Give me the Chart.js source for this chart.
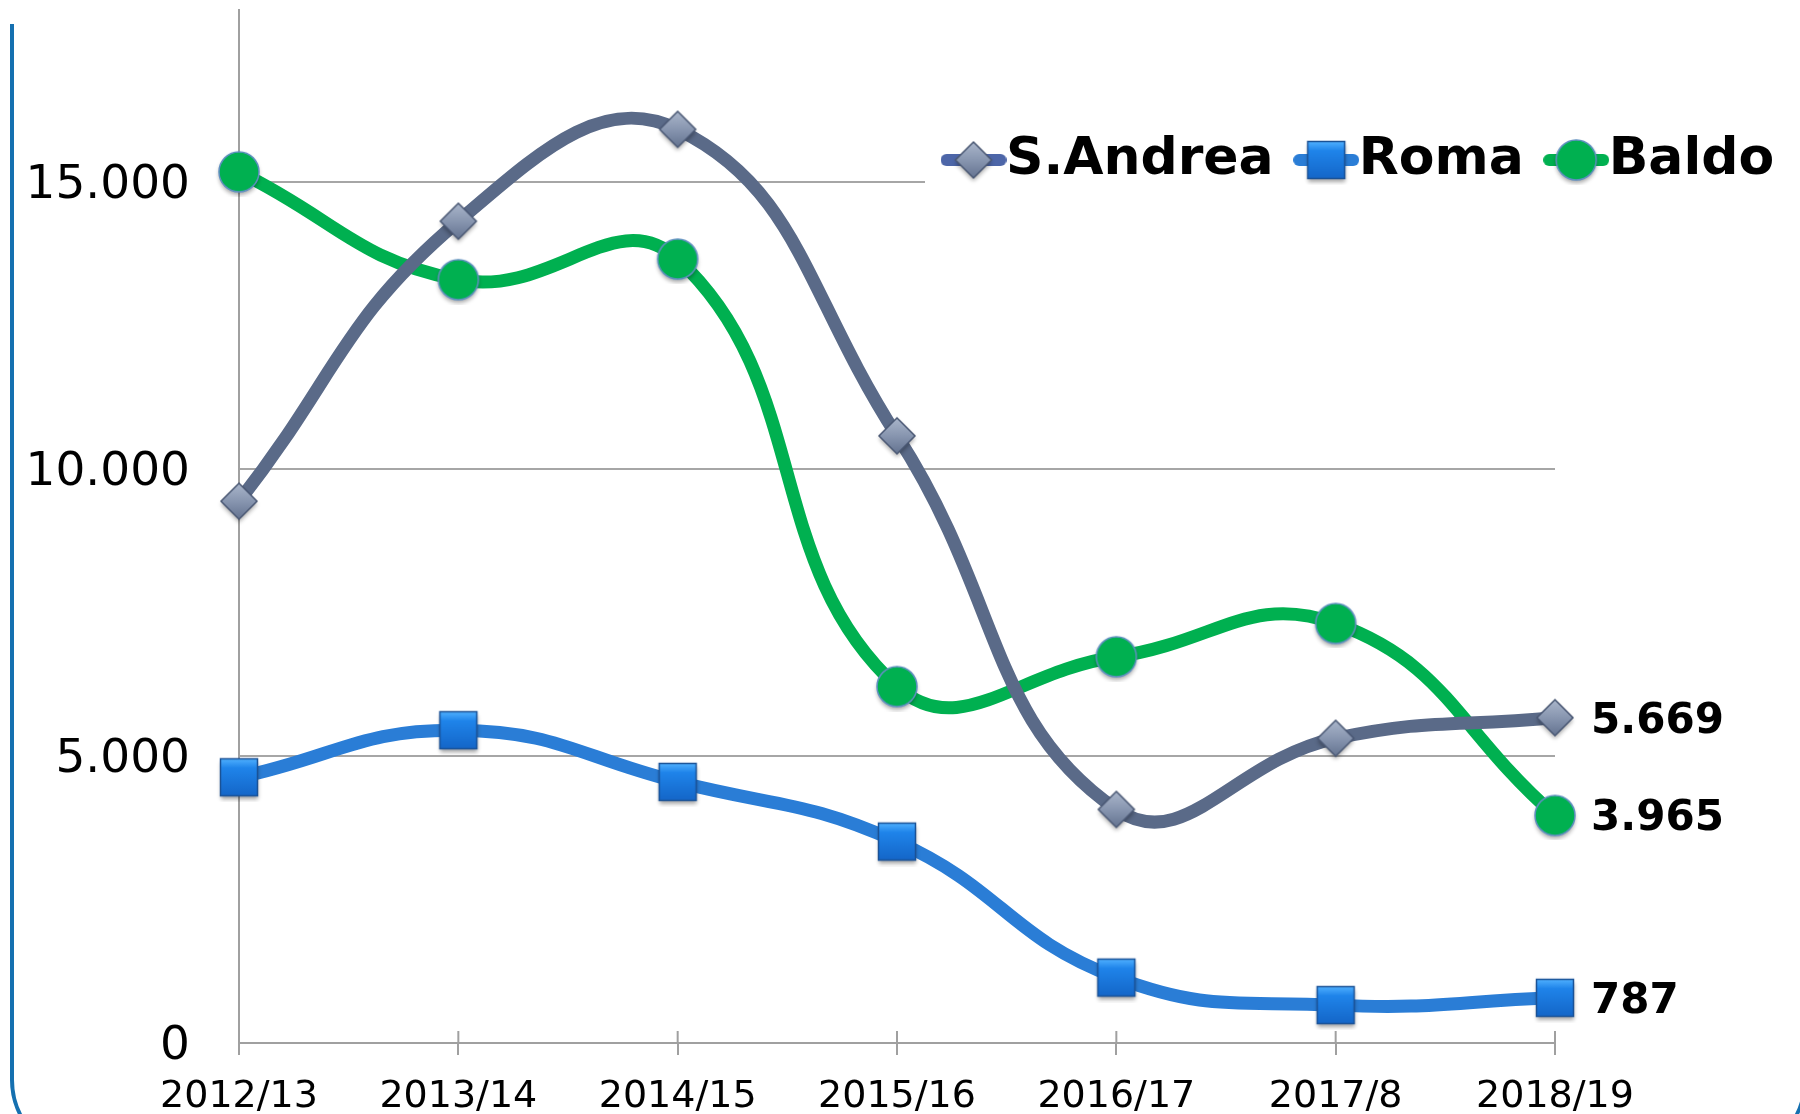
<!DOCTYPE html>
<html>
<head>
<meta charset="utf-8">
<script src="https://cdn.jsdelivr.net/npm/chart.js@4.4.1/dist/chart.umd.min.js"></script>
<style>
  html, body { margin: 0; background: #fff; }
  #contenitore { width: 1800px; height: 1114px; position: relative; }
</style>
</head>
<body>
<div id="contenitore"><canvas id="grafico"></canvas></div>
<script>
// dati
const anni = ['2012/13', '2013/14', '2014/15', '2015/16', '2016/17', '2017/8', '2018/19'];
const santAndrea = [9440, 14320, 15920, 10580, 4070, 5310, 5669];
const roma = [4630, 5450, 4550, 3510, 1140, 660, 787];
const baldo = [15180, 13300, 13660, 6210, 6730, 7310, 3965];
const nomiSerie = ['S.Andrea', 'Roma', 'Baldo'];
const tickY = [0, 5000, 10000, 15000];
const maxY = 18000;

const coloriLinea = ['#5a6a88', '#2a7dd6', '#00b050'];
const coloriLegenda = ['#4d66a8', '#2a7dd6', '#00b050'];

const fmt = v => v.toLocaleString('de-DE');

// disegna i marcatori (rombo, quadrato, cerchio) su un canvas, con o senza tratto di linea
function marcatore(tipo, coloreLinea) {
    const w = coloreLinea ? 66 : 50, h = 50;
    const c = document.createElement('canvas');
    c.width = w; c.height = h;
    const g = c.getContext('2d');
    const cx = w / 2, cy = h / 2;
    if (coloreLinea) {
        g.strokeStyle = coloreLinea;
        g.lineWidth = 12;
        g.lineCap = 'round';
        g.beginPath(); g.moveTo(6, cy); g.lineTo(w - 6, cy); g.stroke();
    }
    g.save();
    g.shadowColor = 'rgba(0,0,0,0.35)';
    g.shadowBlur = 4;
    g.shadowOffsetY = 3;
    g.beginPath();
    let grad;
    if (tipo === 'rombo') {
        const r = 18;
        g.moveTo(cx, cy - r); g.lineTo(cx + r, cy); g.lineTo(cx, cy + r); g.lineTo(cx - r, cy); g.closePath();
        grad = g.createLinearGradient(0, cy - r, 0, cy + r);
        grad.addColorStop(0, '#aab6cb');
        grad.addColorStop(0.5, '#8896b0');
        grad.addColorStop(1, '#647390');
        g.fillStyle = grad; g.fill();
        g.shadowColor = 'transparent';
        g.strokeStyle = '#4a5874'; g.lineWidth = 1.5; g.stroke();
    } else if (tipo === 'quadrato') {
        const r = 18.5;
        g.rect(cx - r, cy - r, 2 * r, 2 * r);
        grad = g.createLinearGradient(0, cy - r, 0, cy + r);
        grad.addColorStop(0, '#4fb0ff');
        grad.addColorStop(0.25, '#1f84ea');
        grad.addColorStop(1, '#1466c8');
        g.fillStyle = grad; g.fill();
        g.shadowColor = 'transparent';
        g.strokeStyle = '#1a5296'; g.lineWidth = 1.5; g.stroke();
    } else {
        g.arc(cx, cy, 20, 0, Math.PI * 2);
        g.fillStyle = '#00b050'; g.fill();
        g.shadowColor = 'transparent';
        g.strokeStyle = '#5f8fc0'; g.lineWidth = 1.5; g.stroke();
    }
    g.restore();
    return c;
}

const tipi = ['rombo', 'quadrato', 'cerchio'];
const puntiSerie = tipi.map(t => marcatore(t));
const iconeLegenda = tipi.map((t, i) => marcatore(t, coloriLegenda[i]));

// etichette con il valore dell'ultimo anno
const etichetteFinali = {
    id: 'etichetteFinali',
    afterDatasetsDraw(chart) {
        const ctx = chart.ctx;
        ctx.save();
        ctx.font = 'bold 42px "DejaVu Sans"';
        ctx.fillStyle = '#000';
        ctx.textAlign = 'left';
        ctx.textBaseline = 'middle';
        chart.data.datasets.forEach((ds, i) => {
            const meta = chart.getDatasetMeta(i);
            const p = meta.data[meta.data.length - 1];
            ctx.fillText(fmt(ds.data[ds.data.length - 1]), p.x + 36, p.y + 4);
        });
        ctx.restore();
    }
};

// legenda dentro l'area del grafico, in alto a destra, con fondo bianco
const legendaLibera = {
    id: 'legendaLibera',
    afterInit(chart) {
        const leg = chart.legend;
        leg.isHorizontal = () => true;
        leg._disegna = leg.draw.bind(leg);
        leg.draw = function () {};
    },
    afterLayout(chart) {
        const leg = chart.legend;
        leg.left = 921;
        leg.right = 1840;
        leg.top = 88;
        leg.bottom = 288;
    },
    beforeDatasetsDraw(chart) {
        const ctx = chart.ctx;
        ctx.save();
        ctx.fillStyle = '#fff';
        ctx.fillRect(925, 112, 875, 90);
        // tacche dell'asse x anche sopra la linea
        const sx = chart.scales.x;
        ctx.strokeStyle = '#a0a0a0';
        ctx.lineWidth = 2;
        sx.ticks.forEach((t, i) => {
            const x = sx.getPixelForTick(i);
            ctx.beginPath(); ctx.moveTo(x, sx.top - 12); ctx.lineTo(x, sx.top); ctx.stroke();
        });
        ctx.restore();
        chart.legend._disegna();
    }
};

// cornice blu arrotondata
const cornice = {
    id: 'cornice',
    afterDraw(chart) {
        const ctx = chart.ctx;
        const x0 = 12, y0 = 24, x1 = 1805, y1 = 1156, r = 76;
        ctx.save();
        ctx.strokeStyle = '#1570b0';
        ctx.lineWidth = 4;
        ctx.beginPath();
        ctx.moveTo(x0, y0);
        ctx.lineTo(x0, y1 - r);
        ctx.arcTo(x0, y1, x0 + r, y1, r);
        ctx.lineTo(x1 - r, y1);
        ctx.arcTo(x1, y1, x1, y1 - r, r);
        ctx.lineTo(x1, y0);
        ctx.stroke();
        ctx.restore();
    }
};

const serie = [santAndrea, roma, baldo];

new Chart(document.getElementById('grafico'), {
    type: 'line',
    data: {
        labels: anni,
        datasets: serie.map((d, i) => ({
            label: nomiSerie[i],
            data: d,
            borderColor: coloriLinea[i],
            backgroundColor: coloriLinea[i],
            borderWidth: 13,
            borderCapStyle: 'round',
            tension: 0.45,
            fill: false,
            pointStyle: puntiSerie[i],
            pointRadius: 18,
            pointHoverRadius: 18,
            clip: false
        }))
    },
    options: {
        responsive: true,
        maintainAspectRatio: false,
        devicePixelRatio: 1,
        animation: false,
        layout: { autoPadding: false, padding: { left: 0, top: 10, right: 245, bottom: 0 } },
        plugins: {
            tooltip: { enabled: false },
            legend: {
                position: 'chartArea',
                align: 'start',
                labels: {
                    usePointStyle: true,
                    pointStyleWidth: 13,
                    padding: 46,
                    color: '#000',
                    font: { family: 'DejaVu Sans', size: 52, weight: 'bold' },
                    generateLabels(chart) {
                        return chart.data.datasets.map((ds, i) => ({
                            text: ds.label,
                            pointStyle: iconeLegenda[i],
                            datasetIndex: i,
                            fontColor: '#000',
                            lineWidth: 0,
                            hidden: false
                        }));
                    }
                }
            }
        },
        scales: {
            x: {
                afterFit(s) { s.height = 71; s.paddingLeft = 0; s.paddingRight = 0; },
                grid: {
                    drawOnChartArea: false,
                    drawTicks: true,
                    tickLength: 12,
                    color: '#a0a0a0',
                    lineWidth: 2
                },
                border: { color: '#a0a0a0', width: 2 },
                ticks: {
                    color: '#000',
                    padding: 19,
                    maxRotation: 0,
                    autoSkip: false,
                    font: { family: 'DejaVu Sans', size: 38 }
                }
            },
            y: {
                min: 0,
                max: maxY,
                afterFit(s) { s.width = 239; s.paddingTop = 0; s.paddingBottom = 0; },
                afterBuildTicks(s) { s.ticks = tickY.map(v => ({ value: v })); },
                grid: { color: '#a6a6a6', lineWidth: 2, drawTicks: false },
                border: { color: '#a0a0a0', width: 2 },
                ticks: {
                    color: '#000',
                    padding: 49,
                    labelOffset: 4,
                    font: { family: 'DejaVu Sans', size: 47 },
                    callback: v => fmt(v)
                }
            }
        }
    },
    plugins: [legendaLibera, etichetteFinali, cornice]
});
</script>
</body>
</html>
